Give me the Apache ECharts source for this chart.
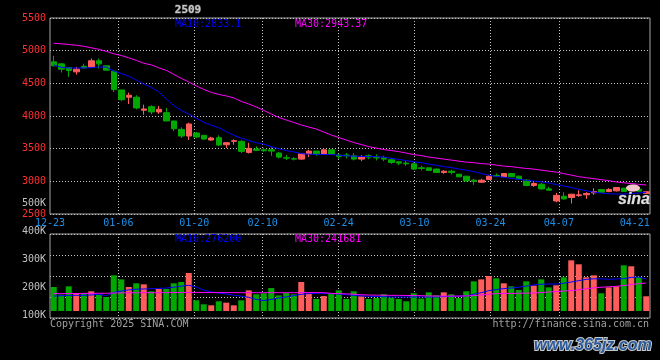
<!DOCTYPE html>
<html>
<head>
<meta charset="utf-8">
<script src="https://cdn.jsdelivr.net/npm/echarts@6/dist/echarts.min.js"></script>
<style>
html,body{margin:0;padding:0;background:#000;}
#c{width:660px;height:360px;}
</style>
</head>
<body>
<div id="c"></div>
<script>
const dates = ['12-23','12-24','12-25','12-26','12-27','12-30','12-31',
'01-02','01-03','01-06','01-07','01-08','01-09','01-10','01-13','01-14','01-15','01-16','01-17','01-20','01-21','01-22','01-23','01-24','01-27',
'02-05','02-06','02-07','02-10','02-11','02-12','02-13','02-14','02-17','02-18','02-19','02-20','02-21','02-24','02-25','02-26','02-27','02-28',
'03-03','03-04','03-05','03-06','03-07','03-10','03-11','03-12','03-13','03-14','03-17','03-18','03-19','03-20','03-21','03-24','03-25','03-26','03-27','03-28','03-31',
'04-01','04-02','04-03','04-07','04-08','04-09','04-10','04-11','04-14','04-15','04-16','04-17','04-18','04-21','04-22','04-23'];

const open = [4829,4798,4742,4676,4760,4748,4845,4768,4686,4399,
4287,4287,4088,4143,4062,4051,3924,3796,3693,3739,
3704,3632,3668,3560,3612,3612,3443,3494,3483,3483,
3432,3360,3345,3340,3422,3463,3417,3483,3402,3402,
3391,3340,3391,3371,3360,3330,3299,3279,3268,3207,
3207,3187,3136,3156,3110,3079,3018,2987,3028,3090,
3069,3120,3079,3018,2936,2956,2884,2700,2772,2752,
2783,2793,2823,2874,2844,2854,2895,2855,2880,2815];
const close = [4768,4717,4696,4717,4735,4845,4798,4702,4404,4250,
4318,4123,4108,4062,4103,3924,3805,3693,3878,3678,
3647,3663,3555,3591,3622,3458,3505,3474,3468,3463,
3371,3356,3340,3422,3463,3412,3483,3417,3381,3391,
3340,3371,3371,3360,3340,3289,3279,3268,3187,3197,
3167,3136,3156,3136,3069,3007,2998,3018,3079,3079,
3120,3069,3038,2936,2967,2884,2864,2785,2731,2803,
2793,2814,2844,2833,2874,2905,2844,2885,2850,2840];
const low = [4760,4665,4599,4634,4730,4745,4726,4700,4369,4226,
4184,4103,4020,4026,4031,3920,3770,3663,3632,3663,
3632,3622,3540,3509,3560,3432,3425,3463,3452,3391,
3351,3325,3320,3330,3371,3391,3417,3417,3340,3351,
3320,3309,3340,3320,3309,3268,3248,3237,3176,3167,
3156,3136,3115,3105,3069,2998,2946,2977,3028,3069,
3069,3069,3033,2926,2915,2874,2864,2680,2721,2660,
2762,2731,2793,2833,2833,2844,2844,2850,2840,2810];
const high = [4921,4805,4748,4752,4800,4880,4880,4778,4702,4399,
4358,4318,4174,4164,4154,4123,3924,3827,3898,3755,
3704,3683,3704,3601,3643,3632,3590,3535,3514,3524,
3452,3402,3371,3432,3483,3463,3483,3483,3422,3432,
3432,3402,3412,3412,3391,3351,3309,3309,3289,3237,
3207,3197,3167,3176,3110,3079,3038,3038,3095,3120,
3125,3125,3090,3033,2987,2977,2915,2823,2833,2803,
2864,2833,2895,2884,2895,2910,2895,2895,2890,2850];

const ma10 = [4780,4745,4735,4735,4735,4740,4750,4750,4690,4650,
4610,4550,4490,4440,4370,4260,4160,4085,4030,3965,
3905,3860,3820,3760,3705,3660,3625,3590,3570,3530,
3500,3470,3450,3425,3415,3412,3412,3410,3400,3390,
3385,3381,3381,3378,3370,3352,3335,3318,3300,3285,
3265,3245,3225,3210,3190,3170,3150,3120,3095,3075,
3062,3045,3030,3015,3005,2992,2975,2950,2930,2905,
2880,2855,2835,2820,2810,2805,2805,2812,2822,2833.1];
const ma30 = [5113,5105,5095,5082,5067,5044,5021,4990,4952,4926,
4890,4852,4806,4783,4737,4699,4637,4576,4522,4461,
4407,4361,4330,4307,4277,4223,4184,4138,4085,4031,
3977,3939,3901,3862,3831,3801,3755,3709,3670,3632,
3594,3563,3532,3509,3486,3471,3455,3432,3409,3394,
3371,3356,3340,3325,3309,3294,3286,3271,3264,3248,
3233,3225,3210,3197,3187,3171,3156,3141,3118,3095,
3072,3056,3041,3026,3010,2990,2978,2965,2954,2943.37];

const volumeK = [207,141,213,155,153,170,144,121,308,273,
207,239,230,170,190,190,239,250,328,92,
58,49,84,72,49,92,178,144,153,198,
135,155,144,250,150,104,129,153,178,104,
170,127,104,112,144,115,104,84,153,107,
161,135,161,144,112,170,256,273,302,282,
239,213,181,256,219,273,204,222,291,437,
403,291,308,153,204,213,394,386,293,127];
const volMa10K = [129,132,135,135,135,138,144,132,160,172,
182,188,190,192,195,198,205,215,222,207,
180,165,155,147,136,128,118,100,90,100,
112,121,133,144,150,153,153,150,146,141,
135,130,127,125,123,121,121,121,121,121,
121,121,124,126,128,129,145,158,175,185,
193,198,205,215,225,231,233,233,240,250,
262,273,278,277,273,276,279,290,293,276.2];
const volMa30K = [150,150,151,151,152,152,153,153,155,156,
157,157,158,158,158,158,159,159,160,160,
160,159,159,159,159,158,158,158,158,158,
158,158,158,159,159,159,158,152,150,148,
145,140,138,137,136,135,135,134,133,132,
130,129,129,129,129,130,133,138,145,150,
151,152,153,154,155,159,164,168,172,176,
184,192,200,205,209,213,220,228,236,241.681];

const labelIdx = [0,9,19,28,38,48,58,67,77];
const gridIdx = [9,19,28,38,48,58,67];

const RED = '#ff5c5c', GREEN = '#00a800';
const MONO = '"DejaVu Sans Mono", monospace';
const DOT = {color:'#c4c4c4', width:1, type:[1,2]};
const BORDER = '#a8a8a8';

const candles = dates.map((d,i)=>[open[i],close[i],low[i],high[i]]);
const volBars = volumeK.map((v,i)=>({value:v, itemStyle:{color: close[i] >= open[i] ? RED : GREEN}}));

const chart = echarts.init(document.getElementById('c'), null, {renderer:'canvas'});
const hidden = {show:false};
chart.setOption({
  animation:false,
  backgroundColor:'#000',
  grid:[
    {left:50, top:18, width:600, height:196, show:true, borderColor:BORDER, borderWidth:1, backgroundColor:'transparent'},
    {left:50, top:234, width:600, height:84, show:true, borderColor:BORDER, borderWidth:1, backgroundColor:'transparent'},
    {left:50, top:203, width:600, height:112, show:false}
  ],
  xAxis:[
    {type:'category', gridIndex:0, data:dates, boundaryGap:true, axisLine:hidden, axisTick:hidden, axisLabel:hidden, splitLine:hidden},
    {type:'category', gridIndex:0, data:dates, boundaryGap:false, position:'bottom',
      axisLine:hidden, axisTick:hidden,
      axisLabel:{show:true, color:'#1e8fe6', fontFamily:MONO, fontSize:10, margin:4,
        interval:(i)=>labelIdx.indexOf(i) >= 0},
      splitLine:{show:true, interval:(i)=>gridIdx.indexOf(i) >= 0, lineStyle:DOT}},
    {type:'category', gridIndex:1, data:dates, boundaryGap:true, axisLine:hidden, axisTick:hidden, axisLabel:hidden, splitLine:hidden},
    {type:'category', gridIndex:1, data:dates, boundaryGap:false, axisLine:hidden, axisTick:hidden, axisLabel:hidden,
      splitLine:{show:true, interval:(i)=>gridIdx.indexOf(i) >= 0, lineStyle:DOT}},
    {type:'value', gridIndex:2, min:0, max:1, show:false}
  ],
  yAxis:[
    {type:'value', gridIndex:0, min:2500, max:5500, interval:500,
      axisLine:hidden, axisTick:hidden,
      axisLabel:{color:'#ff3030', fontFamily:MONO, fontSize:10, margin:4, padding:[0,0,4,0], formatter:(v)=>String(v)},
      splitLine:{show:true, lineStyle:DOT}},
    {type:'value', gridIndex:1, min:-60.4, max:664.4, show:false, splitLine:hidden},
    {type:'value', gridIndex:1, min:0, max:400, interval:100, axisLine:hidden, axisTick:hidden, axisLabel:hidden,
      splitLine:{show:true, lineStyle:DOT}},
    {type:'value', gridIndex:2, min:100, max:500, interval:100, axisLine:hidden, axisTick:hidden, splitLine:hidden,
      axisLabel:{color:'#c0c0c0', fontFamily:MONO, fontSize:10, margin:4, formatter:(v)=>v+'K'}}
  ],
  series:[
    {type:'candlestick', xAxisIndex:0, yAxisIndex:0, data:candles, barWidth:6,
      itemStyle:{color:RED, color0:GREEN, borderColor:RED, borderColor0:GREEN, borderWidth:1}},
    {type:'line', xAxisIndex:0, yAxisIndex:0, data:ma10, symbol:'none', lineStyle:{color:'#0000ff', width:1}},
    {type:'line', xAxisIndex:0, yAxisIndex:0, data:ma30, symbol:'none', lineStyle:{color:'#ff00ff', width:1}},
    {type:'bar', xAxisIndex:2, yAxisIndex:1, data:volBars, barWidth:6},
    {type:'line', xAxisIndex:2, yAxisIndex:1, data:volMa10K, symbol:'none', lineStyle:{color:'#0000ff', width:1}},
    {type:'line', xAxisIndex:2, yAxisIndex:1, data:volMa30K, symbol:'none', lineStyle:{color:'#ff00ff', width:1}}
  ],
  graphic:[
    {type:'text', x:188, y:10, z:10, style:{text:'2509', fill:'#c8c8c8', stroke:'#555', lineWidth:1, font:'bold 11px '+MONO, align:'center', textAlign:'center', verticalAlign:'middle', textVerticalAlign:'middle'}},
    {type:'text', x:175, y:24, z:10, style:{text:'MA10:'+ma10[ma10.length-1], fill:'#0000ff', font:'10px '+MONO, verticalAlign:'middle', textVerticalAlign:'middle'}},
    {type:'text', x:295, y:24, z:10, style:{text:'MA30:'+ma30[ma30.length-1], fill:'#ff00ff', font:'10px '+MONO, verticalAlign:'middle', textVerticalAlign:'middle'}},
    {type:'text', x:175, y:239, z:10, style:{text:'MA10:'+Math.round(volMa10K[volMa10K.length-1]*1000), fill:'#0000ff', font:'10px '+MONO, verticalAlign:'middle', textVerticalAlign:'middle'}},
    {type:'text', x:295, y:239, z:10, style:{text:'MA30:'+Math.round(volMa30K[volMa30K.length-1]*1000), fill:'#ff00ff', font:'10px '+MONO, verticalAlign:'middle', textVerticalAlign:'middle'}},
    {type:'text', x:50, y:324, z:10, style:{text:'Copyright 2025 SINA.COM', fill:'#a0a0a0', font:'10px '+MONO, verticalAlign:'middle', textVerticalAlign:'middle'}},
    {type:'text', x:649, y:324, z:10, style:{text:'http://finance.sina.com.cn', fill:'#a0a0a0', font:'10px '+MONO, align:'right', textAlign:'right', verticalAlign:'middle', textVerticalAlign:'middle'}},
    {type:'ellipse', z:10, shape:{cx:633, cy:188, rx:7, ry:3.5}, style:{fill:'#f3c4cc'}},
    {type:'text', x:618, y:200, z:10, style:{text:'sina', fill:'#e0e0e0', stroke:'#777', lineWidth:0.5, font:'italic bold 16px "Liberation Sans", sans-serif', verticalAlign:'middle', textVerticalAlign:'middle'}},
    {type:'text', x:534, y:346, z:10, style:{text:'www.365jz.com', fill:'#2b5a9c', stroke:'#c8c8c8', lineWidth:2, font:'italic bold 16px "Liberation Sans", sans-serif', verticalAlign:'middle', textVerticalAlign:'middle'}}
  ]
});
</script>
</body>
</html>
